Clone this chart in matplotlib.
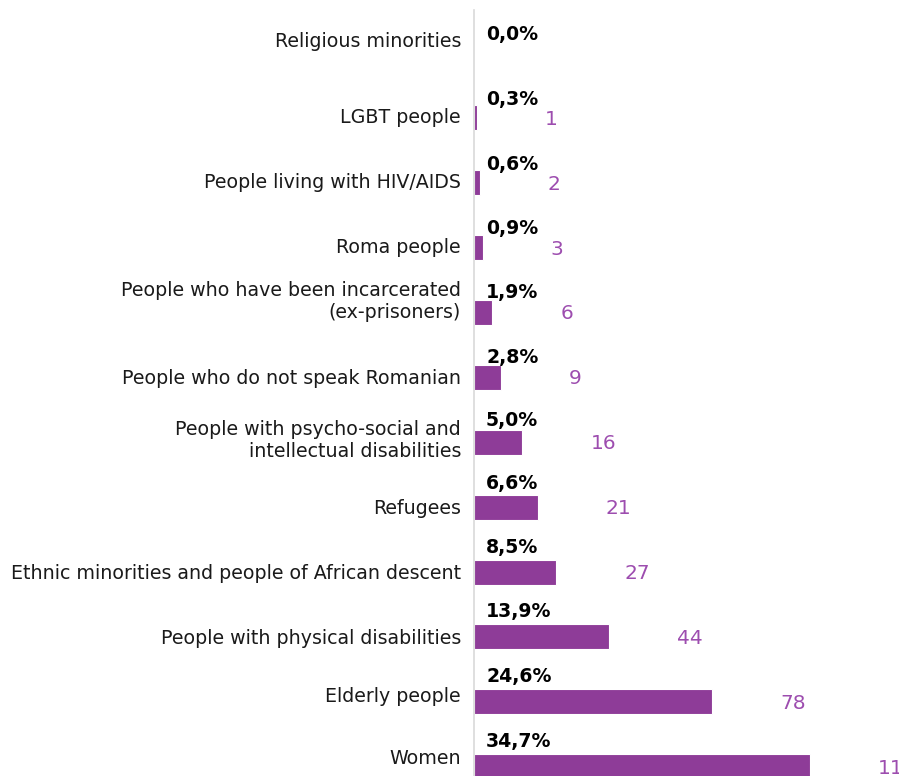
import matplotlib
matplotlib.use("Agg")
import matplotlib.pyplot as plt
import matplotlib.transforms as mtransforms

categories = [
    "Religious minorities",
    "LGBT people",
    "People living with HIV/AIDS",
    "Roma people",
    "People who have been incarcerated\n(ex-prisoners)",
    "People who do not speak Romanian",
    "People with psycho-social and\nintellectual disabilities",
    "Refugees",
    "Ethnic minorities and people of African descent",
    "People with physical disabilities",
    "Elderly people",
    "Women",
]
percent = [0.0, 0.3, 0.6, 0.9, 1.9, 2.8, 5.0, 6.6, 8.5, 13.9, 24.6, 34.7]
counts = [None, 1, 2, 3, 6, 9, 16, 21, 27, 44, 78, 110]

BAR = "#8E3C98"
CNT = "#9D4DAF"
FONT = "DejaVu Sans"
plt.rcParams['font.family'] = [FONT]

W, H = 899, 776
fig = plt.figure(figsize=(W / 100, H / 100), dpi=100)

ppr = 64.9  # pixels per row
top_row = -0.66
bot_row = 11.5
ax_top_px = 10
ax_h_px = (bot_row - top_row) * ppr
left_px = 474
ax = fig.add_axes([left_px / W, 1 - (ax_top_px + ax_h_px) / H, 1 - left_px / W, ax_h_px / H])
xmax = (W - left_px) / 9.68
ax.set_xlim(0, xmax)
ax.set_ylim(bot_row, top_row)

ypos = list(range(len(categories)))
ax.barh(ypos, percent, height=25 / ppr, color=BAR, edgecolor="white", linewidth=0.8)

for s in ["top", "right", "bottom"]:
    ax.spines[s].set_visible(False)
ax.spines["left"].set_color("#d9d9d9")
ax.spines["left"].set_linewidth(1.2)
ax.set_xticks([])
ax.set_yticks(ypos)
ax.set_yticklabels(categories, fontsize=13.7, color="#1a1a1a", linespacing=1.2)
ax.tick_params(axis="y", length=0, pad=9.4)

# small vertical label shifts (pixels, upward) to follow the reference layout
label_shift = {0: 13, 1: 2, 2: 2, 3: 2, 4: 14, 5: 1, 6: 5, 7: 1, 8: 1, 10: 7, 11: 10}
for i, lbl in enumerate(ax.get_yticklabels()):
    dy = label_shift.get(i, 0)
    if dy:
        lbl.set_transform(lbl.get_transform() + mtransforms.ScaledTranslation(0, dy / 100, fig.dpi_scale_trans))

for y, v, c in zip(ypos, percent, counts):
    off = 18 + 7 * min(v, 8.5) / 8.5
    ax.annotate(f"{v:.1f}%".replace(".", ","), (0, y), xytext=(12 * 0.72, off * 0.72),
                textcoords="offset points", ha="left", va="center",
                fontsize=13.6, fontweight="bold", color="black", annotation_clip=False)
    if c is not None:
        ax.annotate(str(c), (v, y), xytext=(68 * 0.72, -1.5 * 0.72),
                    textcoords="offset points", ha="left", va="center",
                    fontsize=14.5, color=CNT, annotation_clip=False)

fig.savefig("out.png", dpi=100)
